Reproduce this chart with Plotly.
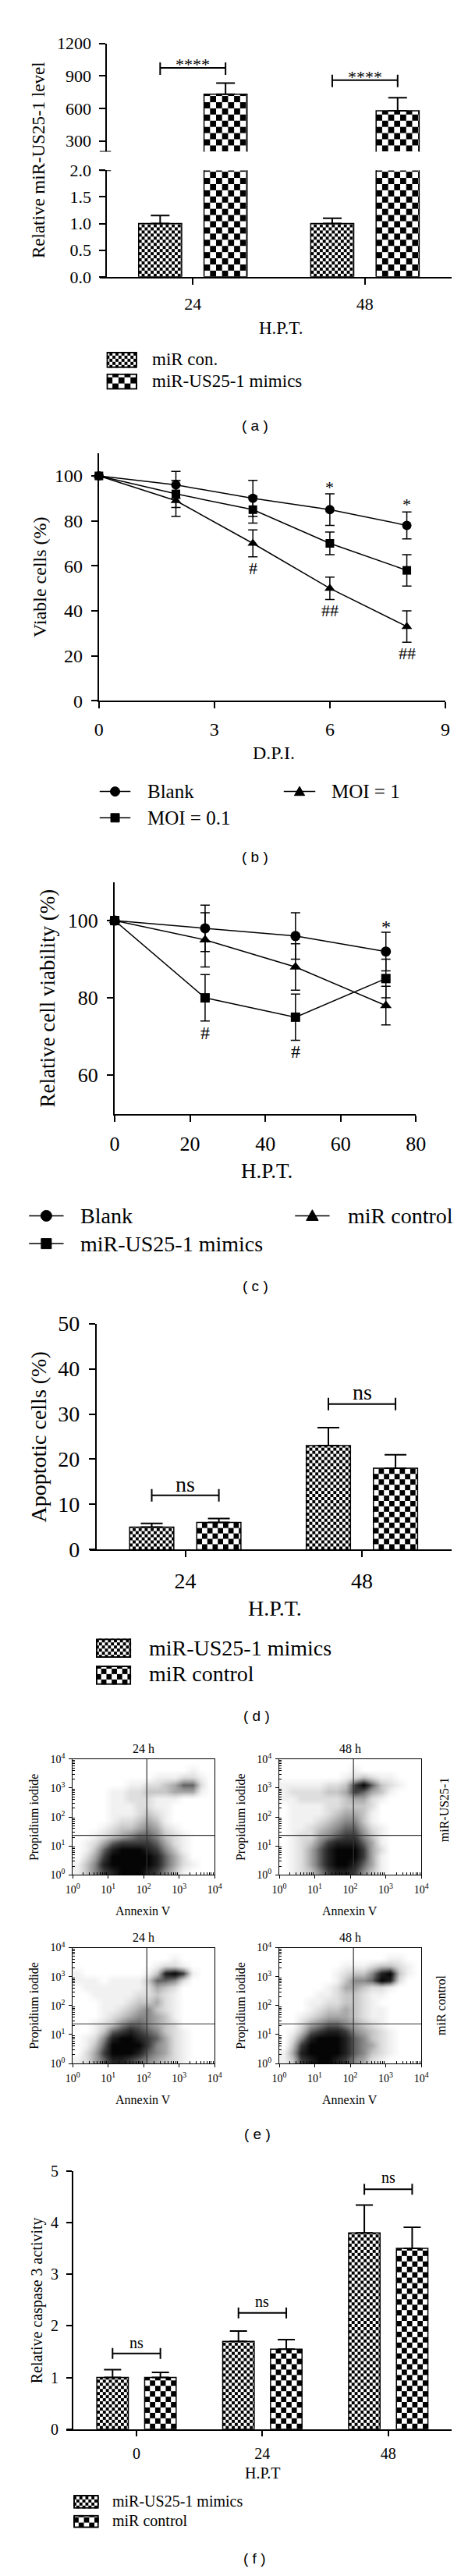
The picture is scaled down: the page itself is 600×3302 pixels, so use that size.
import base64
import math
import plotly.graph_objects as go

W, H = 600, 3302
SERIF = "Liberation Serif"
SANS = "Liberation Sans"

# ------------------------------------------------------------------ data
# (a) relative miR-US25-1 level
a_cats = ["24", "48"]
a_con = [1.0, 1.0]
a_con_err = [0.15, 0.10]
a_mim = [730, 578]
a_mim_err = [103, 120]
a_sig_y = [975, 861]
a_sig_text_y = [1043, 925]
a_sig_text = ["****", "****"]

# (b) viable cells
b_x = [0, 2, 4, 6, 8]
b_blank = [100, 96, 90, 85, 78]
b_blank_err = [None, 6, 8, 7, 6]
b_moi01 = [100, 92, 85, 70, 58]
b_moi01_err = [None, 6, 6, 5, 7]
b_moi1 = [100, 89, 70, 50, 33]
b_moi1_err = [None, 7, 6, 5, 7]
b_mark_x = [6, 8, 4, 6, 8]
b_mark_y = [96.3, 88.6, 59, 40, 21]
b_mark_t = ["*", "*", "#", "##", "##"]

# (c) relative cell viability
c_x = [0, 24, 48, 72]
c_blank = [100, 98, 96, 92]
c_blank_err = [None, 6, 6, 5]
c_mim = [100, 80, 75, 85]
c_mim_err = [None, 6, 6, 5]
c_ctrl = [100, 95, 88, 78]
c_ctrl_err = [None, 7, 6, 5]
c_mark_x = [72, 24, 48]
c_mark_y = [99.2, 71, 66]
c_mark_t = ["*", "#", "#"]

# (d) apoptotic cells
d_cats = ["24", "48"]
d_mim = [5, 23]
d_mim_err = [0.8, 4]
d_ctrl = [6, 18]
d_ctrl_err = [0.9, 3]
d_sig_y = [12, 32.2]
d_sig_text_y = [14.5, 34.9]

# (f) caspase 3 activity
f_cats = ["0", "24", "48"]
f_mim = [1.0, 1.7, 3.8]
f_mim_err = [0.15, 0.2, 0.54]
f_ctrl = [1.0, 1.55, 3.5]
f_ctrl_err = [0.1, 0.185, 0.41]
f_sig_y = [1.465, 2.25, 4.645]
f_sig_text_y = [1.68, 2.47, 4.87]

# (e) flow cytometry density (estimated darkness 0-9, 16x16 bins of 0.25 decade,
# rows listed from top (PI 10^4) to bottom (PI 10^0), columns Annexin 10^0 -> 10^4)
e_mim24 = [
    "0000000000000000",
    "0000000000000100",
    "0000000001112210",
    "0000001122346620",
    "0000112233344410",
    "0000112221110000",
    "0000111221100000",
    "0000111232100000",
    "0000122343100000",
    "0001233454210000",
    "0012345665321000",
    "0124677776421000",
    "0136899987531000",
    "0247999998642000",
    "1358999998642100",
    "1357899987531000",
]
e_mim48 = [
    "0000000000000000",
    "0000000010000000",
    "0000000123211000",
    "1111122379632100",
    "1222233476431000",
    "1122222344210000",
    "0111122333200000",
    "0111123443100000",
    "0111234553100000",
    "0112345664210000",
    "0122456775310000",
    "0123578886410000",
    "0124689997420000",
    "0124689997410000",
    "0124689986410000",
    "0123578875310000",
]
e_ctrl24 = [
    "0000000000000000",
    "0000000000010000",
    "0000000001221000",
    "1000000013897100",
    "1110111136652000",
    "0111111124320000",
    "0011111223210000",
    "0001112334210000",
    "0001123453210000",
    "0001234554310000",
    "0012356654320000",
    "0013678765321000",
    "0125899876421000",
    "0136999975421000",
    "0247999865421000",
    "1246887654321000",
]
e_ctrl48 = [
    "0000000000000000",
    "0000000000001100",
    "0000000111233210",
    "0000001233589310",
    "0000001355698200",
    "0000012443221000",
    "0000112332110000",
    "0001122332100000",
    "0001233432110000",
    "0012344432110000",
    "0024566543210000",
    "0136788754321000",
    "0258999865321000",
    "0379999865421000",
    "1489999865321000",
    "1378998754210000",
]
e_quad_x = 2.09   # log10 Annexin gate
e_quad_y = 1.37   # log10 PI gate

# ------------------------------------------------------------------ helpers
def fx(p):
    return p / W


def fy(p):
    return 1 - p / H


def xdom(l, r):
    return [fx(l), fx(r)]


def ydom(t, b):
    return [fy(b), fy(t)]


BW = 0.25
OFF = 0.19


def checker(wpx, hpx, cell, border=0.0):
    wpx = max(wpx, 1.0)
    hpx = max(hpx, 1.0)
    c2 = 2 * cell
    oy = hpx % c2
    b = ""
    if border:
        b = (f'<rect x="{border/2}" y="{border/2}" width="{wpx-border:.2f}" height="{hpx-border:.2f}" '
             f'fill="none" stroke="black" stroke-width="{border}"/>')
    svg = (f'<svg xmlns="http://www.w3.org/2000/svg" width="{wpx:.2f}" height="{hpx:.2f}" '
           f'viewBox="0 0 {wpx:.2f} {hpx:.2f}" preserveAspectRatio="none">'
           f'<defs><pattern id="p" x="0" y="{oy:.2f}" width="{c2}" height="{c2}" patternUnits="userSpaceOnUse">'
           f'<rect width="{c2}" height="{c2}" fill="white"/>'
           f'<rect width="{cell}" height="{cell}" fill="black"/>'
           f'<rect x="{cell}" y="{cell}" width="{cell}" height="{cell}" fill="black"/></pattern></defs>'
           f'<rect width="{wpx:.2f}" height="{hpx:.2f}" fill="url(#p)"/>{b}</svg>')
    return "data:image/svg+xml;base64," + base64.b64encode(svg.encode()).decode()


def bar_images(xs, tops, xref, yref, xscale, yscale, yrng, cell):
    out = []
    for xc, top in zip(xs, tops):
        lo = max(0, yrng[0])
        hi = min(top, yrng[1])
        if hi <= lo:
            continue
        out.append(dict(source=checker(BW * xscale, (hi - lo) * yscale, cell),
                        xref=xref, yref=yref, x=xc - BW / 2, y=hi, sizex=BW, sizey=hi - lo,
                        xanchor="left", yanchor="top", sizing="stretch", layer="below"))
    return out


def legend_patch(x0, y0, x1, y1, cell):
    return dict(source=checker(x1 - x0, y1 - y0, cell, border=2), xref="paper", yref="paper",
                x=fx(x0), y=fy(y0), sizex=(x1 - x0) / W, sizey=(y1 - y0) / H,
                xanchor="left", yanchor="top", sizing="stretch", layer="above")


def ax(size, **kw):
    d = dict(showline=True, linecolor="black", linewidth=2, ticks="outside", ticklen=8,
             tickwidth=2, tickcolor="black", showgrid=False, zeroline=False,
             tickfont=dict(family=SERIF, size=size, color="black"), fixedrange=True,
             ticklabelstandoff=4)
    d.update(kw)
    return d


def txt(x, y, s, size, angle=0, family=SERIF, xanchor="center"):
    return dict(x=fx(x), y=fy(y), xref="paper", yref="paper", text=s, showarrow=False,
                textangle=angle, xanchor=xanchor, yanchor="middle",
                font=dict(family=family, size=size, color="black"))


def bracket(x0, x1, y, xref, yref, up=7, down=9, width=2):
    line = dict(color="black", width=width)
    return [
        dict(type="line", xref=xref, yref=yref, x0=x0, x1=x1, y0=y, y1=y, line=line),
        dict(type="line", xref=xref, yref=yref, x0=x0, x1=x0, ysizemode="pixel", yanchor=y,
             y0=-down, y1=up, line=line),
        dict(type="line", xref=xref, yref=yref, x0=x1, x1=x1, ysizemode="pixel", yanchor=y,
             y0=-down, y1=up, line=line),
    ]


def legend_symbol(x0, x1, y, sym, r):
    """Legend key: a short line with a marker glyph in its middle (pixel positions)."""
    cx = (x0 + x1) / 2
    out = [dict(type="line", xref="paper", yref="paper", x0=fx(x0), x1=fx(x1), y0=fy(y), y1=fy(y),
                line=dict(color="black", width=1.5))]
    base = dict(xref="paper", yref="paper", xsizemode="pixel", ysizemode="pixel",
                xanchor=fx(cx), yanchor=fy(y), fillcolor="black", line=dict(color="black", width=1))
    if sym == "circle":
        out.append(dict(type="circle", x0=-r, x1=r, y0=-r, y1=r, **base))
    elif sym == "square":
        out.append(dict(type="rect", x0=-r, x1=r, y0=-r, y1=r, **base))
    else:
        out.append(dict(type="path", path=f"M{-r*1.1},{-r*0.85} L{r*1.1},{-r*0.85} L0,{r*1.1} Z", **base))
    return out


traces = []
images = []
shapes = []
annots = []
layout = {}

bar_line = dict(color="black", width=1.5)
clear = "rgba(0,0,0,0)"


def err_up(arr, w):
    return dict(type="data", array=arr, arrayminus=[0] * len(arr), symmetric=False,
                color="black", thickness=2, width=w)


# ------------------------------------------------------------------ (a)
A_X = (115, 583); A_XR = [-0.5415, 1.502]
A_LO = (197, 335); A_HI = (33, 173)
ax_sc = (A_X[1] - A_X[0]) / (A_XR[1] - A_XR[0])
lo_sc = (A_LO[1] - A_LO[0]) / 2.0
hi_sc = (A_HI[1] - A_HI[0]) / 1000.0
a_idx = list(range(len(a_cats)))
xa_con = [i - OFF for i in a_idx]
xa_mim = [i + OFF for i in a_idx]
layout["xaxis"] = ax(22, domain=xdom(*A_X), range=A_XR, tickvals=a_idx, ticktext=a_cats,
                     anchor="y", ticklabelstandoff=6)
layout["yaxis"] = ax(22, domain=ydom(*A_LO), range=[0, 2], tickvals=[0, 0.5, 1, 1.5, 2],
                     tickformat=".1f", anchor="free", position=fx(124), ticklabelstandoff=6)
layout["yaxis2"] = ax(22, domain=ydom(*A_HI), range=[200, 1200], tickvals=[300, 600, 900, 1200],
                      anchor="free", position=fx(124), ticklabelstandoff=6)
traces.append(go.Bar(x=xa_con, y=a_con, width=BW, xaxis="x", yaxis="y",
                     marker=dict(color=clear, line=bar_line), error_y=err_up(a_con_err, 12),
                     showlegend=False))
traces.append(go.Bar(x=xa_mim, y=a_mim, width=BW, xaxis="x", yaxis="y",
                     marker=dict(color=clear, line=bar_line), showlegend=False))
traces.append(go.Bar(x=xa_mim, y=a_mim, width=BW, xaxis="x", yaxis="y2",
                     marker=dict(color=clear, line=bar_line), error_y=err_up(a_mim_err, 12),
                     showlegend=False))
images += bar_images(xa_con, a_con, "x", "y", ax_sc, lo_sc, [0, 2], 4)
images += bar_images(xa_mim, a_mim, "x", "y", ax_sc, lo_sc, [0, 2], 8)
images += bar_images(xa_mim, a_mim, "x", "y2", ax_sc, hi_sc, [200, 1200], 8)
for i, (yv, ty, t) in enumerate(zip(a_sig_y, a_sig_text_y, a_sig_text)):
    shapes += bracket(i - OFF, i + OFF, yv, "x", "y2")
    annots.append(dict(x=i, y=ty, xref="x", yref="y2", text=t, showarrow=False,
                       yanchor="middle", yshift=-5, font=dict(family=SERIF, size=22)))
# axis break marks
for yy, yr in ((200, "y2"), (2.0, "y")):
    shapes.append(dict(type="line", xref="paper", yref=yr, x0=fx(115), x1=fx(130), y0=yy, y1=yy,
                       line=dict(color="black", width=2)))
annots += [txt(34, 184, "Relative miR-US25-1 level", 23, -90),
           txt(356, 401, "H.P.T.", 23),
           txt(183, 442, "miR con.", 23, xanchor="left"),
           txt(183, 470, "miR-US25-1 mimics", 23, xanchor="left"),
           txt(322, 527, "( a )", 19, family=SANS)]
images += [legend_patch(124, 432, 165, 453, 4), legend_patch(124, 460, 165, 481, 8)]

# ------------------------------------------------------------------ (b)
layout["xaxis2"] = ax(24, domain=xdom(114, 575), range=[0, 9], tickvals=[0, 3, 6, 9], anchor="y3",
                      ticklabelstandoff=6)
layout["yaxis3"] = ax(24, domain=ydom(563.5, 883.6), range=[0, 110],
                      tickvals=[0, 20, 40, 60, 80, 100], anchor="x2", ticklabelstandoff=6)


def line_trace(x, y, e, sym, size, name, xa, ya):
    return go.Scatter(x=x, y=y, mode="lines+markers", name=name, xaxis=xa, yaxis=ya,
                      line=dict(color="black", width=1.5),
                      marker=dict(symbol=sym, size=size, color="black"),
                      error_y=dict(type="data", array=e, color="black", thickness=1.5, width=6),
                      cliponaxis=False, showlegend=False)


traces.append(line_trace(b_x, b_blank, b_blank_err, "circle", 12, "Blank", "x2", "y3"))
traces.append(line_trace(b_x, b_moi1, b_moi1_err, "triangle-up", 12, "MOI = 1", "x2", "y3"))
traces.append(line_trace(b_x, b_moi01, b_moi01_err, "square", 11, "MOI = 0.1", "x2", "y3"))
for x, y, t in zip(b_mark_x, b_mark_y, b_mark_t):
    annots.append(dict(x=x, y=y, xref="x2", yref="y3", text=t, showarrow=False, yanchor="middle",
                       yshift=-4 if t == "*" else 0, font=dict(family=SERIF, size=22)))
annots += [txt(35, 723, "Viable cells (%)", 24, -90),
           txt(347, 951, "D.P.I.", 24),
           txt(176, 1001, "Blank", 25, xanchor="left"),
           txt(176, 1035, "MOI = 0.1", 25, xanchor="left"),
           txt(421, 1001, "MOI = 1", 25, xanchor="left"),
           txt(322, 1086, "( b )", 19, family=SANS)]
shapes += legend_symbol(115, 156, 1001, "circle", 6)
shapes += legend_symbol(115, 156, 1035, "square", 5.5)
shapes += legend_symbol(360, 402, 1001, "triangle", 6)

# ------------------------------------------------------------------ (c)
layout["xaxis3"] = ax(26, domain=xdom(135, 536), range=[0, 80], tickvals=[0, 20, 40, 60, 80],
                      anchor="y4", ticklabelstandoff=6)
layout["yaxis4"] = ax(26, domain=ydom(1118, 1418), range=[50, 110], tickvals=[60, 80, 100],
                      anchor="x3", ticklabelstandoff=6)
traces.append(line_trace(c_x, c_blank, c_blank_err, "circle", 13, "Blank", "x3", "y4"))
traces.append(line_trace(c_x, c_ctrl, c_ctrl_err, "triangle-up", 13, "miR control", "x3", "y4"))
traces.append(line_trace(c_x, c_mim, c_mim_err, "square", 12, "miR-US25-1 mimics", "x3", "y4"))
for x, y, t in zip(c_mark_x, c_mark_y, c_mark_t):
    annots.append(dict(x=x, y=y, xref="x3", yref="y4", text=t, showarrow=False, yanchor="middle",
                       yshift=-4 if t == "*" else 0, font=dict(family=SERIF, size=24)))
annots += [txt(46, 1268, "Relative cell viability (%)", 27, -90),
           txt(337, 1492, "H.P.T.", 27),
           txt(87, 1550, "Blank", 28, xanchor="left"),
           txt(87, 1586, "miR-US25-1 mimics", 28, xanchor="left"),
           txt(443, 1550, "miR control", 28, xanchor="left"),
           txt(322, 1641, "( c )", 19, family=SANS)]
shapes += legend_symbol(21, 67, 1550, "circle", 7)
shapes += legend_symbol(21, 67, 1586, "square", 6.5)
shapes += legend_symbol(375, 421, 1550, "triangle", 7)

# ------------------------------------------------------------------ (d)
D_X = (102, 583); D_XR = [-0.540, 1.506]; D_Y = (1689.5, 1982)
dx_sc = (D_X[1] - D_X[0]) / (D_XR[1] - D_XR[0])
dy_sc = (D_Y[1] - D_Y[0]) / 50.0
d_idx = list(range(len(d_cats)))
xd_mim = [i - OFF for i in d_idx]
xd_ctrl = [i + OFF for i in d_idx]
layout["xaxis4"] = ax(28, domain=xdom(*D_X), range=D_XR, tickvals=d_idx, ticktext=d_cats,
                      anchor="y5", ticklabelstandoff=6)
layout["yaxis5"] = ax(28, domain=ydom(*D_Y), range=[0, 50], tickvals=[0, 10, 20, 30, 40, 50],
                      anchor="free", position=fx(110), ticklabelstandoff=6)
traces.append(go.Bar(x=xd_mim, y=d_mim, width=BW, xaxis="x4", yaxis="y5",
                     marker=dict(color=clear, line=bar_line), error_y=err_up(d_mim_err, 14),
                     showlegend=False))
traces.append(go.Bar(x=xd_ctrl, y=d_ctrl, width=BW, xaxis="x4", yaxis="y5",
                     marker=dict(color=clear, line=bar_line), error_y=err_up(d_ctrl_err, 14),
                     showlegend=False))
images += bar_images(xd_mim, d_mim, "x4", "y5", dx_sc, dy_sc, [0, 50], 4)
images += bar_images(xd_ctrl, d_ctrl, "x4", "y5", dx_sc, dy_sc, [0, 50], 7)
for i, (yv, ty) in enumerate(zip(d_sig_y, d_sig_text_y)):
    shapes += bracket(i - OFF, i + OFF, yv, "x4", "y5", up=8, down=8)
    annots.append(dict(x=i, y=ty, xref="x4", yref="y5", text="ns", showarrow=False,
                       yanchor="middle", font=dict(family=SERIF, size=28)))
annots += [txt(34, 1836, "Apoptotic cells (%)", 28, -90),
           txt(348, 2058, "H.P.T.", 28),
           txt(179, 2109, "miR-US25-1 mimics", 28, xanchor="left"),
           txt(179, 2143, "miR control", 28, xanchor="left"),
           txt(324, 2197, "( d )", 19, family=SANS)]
images += [legend_patch(110, 2097, 157, 2122, 4), legend_patch(110, 2132, 157, 2157, 7)]

# ------------------------------------------------------------------ (e)
minor_vals = [d + math.log10(k) for d in range(4) for k in range(2, 10)]
dec_text = [f"10<sup>{k}</sup>" for k in range(5)]


def flow_ax(dom, anchor):
    return dict(domain=dom, range=[0, 4], tickvals=[0, 1, 2, 3, 4], ticktext=dec_text,
                showline=True, mirror=True, linewidth=1, linecolor="black", ticks="outside",
                ticklen=4, tickwidth=1, tickcolor="black", showgrid=False, zeroline=False,
                minor=dict(tickvals=minor_vals, ticks="inside", ticklen=3, tickwidth=1,
                           tickcolor="black", showgrid=False),
                tickfont=dict(family=SERIF, size=14, color="black"), anchor=anchor,
                fixedrange=True, ticklabelstandoff=2)


flow_panels = [
    (e_mim24, "x6", "y7", (79, 268), (2253, 2403)),
    (e_mim48, "x7", "y8", (354, 543), (2253, 2403)),
    (e_ctrl24, "x8", "y9", (79, 268), (2497, 2647)),
    (e_ctrl48, "x9", "y10", (354, 543), (2497, 2647)),
]
centers = [0.125 + 0.25 * i for i in range(16)]
flow_scale = [[0, "#ffffff"], [0.111, "#f1f1f1"], [0.222, "#dedede"], [0.333, "#c6c6c6"],
              [0.556, "#8a8a8a"], [0.778, "#3c3c3c"], [1, "#050505"]]
for grid, xa, ya, xd, yd in flow_panels:
    xn = "xaxis" + xa[1:]
    yn = "yaxis" + ya[1:]
    layout[xn] = flow_ax(xdom(*xd), ya)
    layout[yn] = flow_ax(ydom(*yd), xa)
    z = [[int(c) for c in row] for row in reversed(grid)]
    traces.append(go.Heatmap(x=centers, y=centers, z=z, xaxis=xa, yaxis=ya, zmin=0, zmax=9,
                             colorscale=flow_scale, showscale=False, zsmooth="best",
                             hoverinfo="skip", showlegend=False))
    gl = dict(color="#333333", width=1.2)
    shapes.append(dict(type="line", xref=xa, yref=ya, x0=e_quad_x, x1=e_quad_x, y0=0, y1=4, line=gl))
    shapes.append(dict(type="line", xref=xa, yref=ya, x0=0, x1=4, y0=e_quad_y, y1=e_quad_y, line=gl))

for (cx, ty, by, lbl) in ((173, 2240, 2450, "24 h"), (448, 2240, 2450, "48 h"),
                          (173, 2484, 2694, "24 h"), (448, 2484, 2694, "48 h")):
    annots.append(txt(cx, ty, lbl, 16))
    annots.append(txt(cx, by, "Annexin V", 16))
for (px, py) in ((28, 2328), (303, 2328), (28, 2572), (303, 2572)):
    annots.append(txt(px, py, "Propidium iodide", 16, -90))
annots += [txt(573, 2318, "miR-US25-1", 16, -90),
           txt(570, 2572, "miR control", 16, -90),
           txt(325, 2738, "( e )", 19, family=SANS)]

# ------------------------------------------------------------------ (f)
F_X = (71, 583); F_XR = [-0.555, 2.501]; F_Y = (2786, 3120)
fx_sc = (F_X[1] - F_X[0]) / (F_XR[1] - F_XR[0])
fy_sc = (F_Y[1] - F_Y[0]) / 5.0
f_idx = list(range(len(f_cats)))
xf_mim = [i - OFF for i in f_idx]
xf_ctrl = [i + OFF for i in f_idx]
layout["xaxis5"] = ax(20, domain=xdom(*F_X), range=F_XR, tickvals=f_idx, ticktext=f_cats,
                      anchor="y6", ticklen=7, ticklabelstandoff=5)
layout["yaxis6"] = ax(20, domain=ydom(*F_Y), range=[0, 5], tickvals=[0, 1, 2, 3, 4, 5],
                      anchor="free", position=fx(79), ticklen=7, ticklabelstandoff=6)
traces.append(go.Bar(x=xf_mim, y=f_mim, width=BW, xaxis="x5", yaxis="y6",
                     marker=dict(color=clear, line=bar_line), error_y=err_up(f_mim_err, 11),
                     showlegend=False))
traces.append(go.Bar(x=xf_ctrl, y=f_ctrl, width=BW, xaxis="x5", yaxis="y6",
                     marker=dict(color=clear, line=bar_line), error_y=err_up(f_ctrl_err, 11),
                     showlegend=False))
images += bar_images(xf_mim, f_mim, "x5", "y6", fx_sc, fy_sc, [0, 5], 4)
images += bar_images(xf_ctrl, f_ctrl, "x5", "y6", fx_sc, fy_sc, [0, 5], 7)
for i, (yv, ty) in enumerate(zip(f_sig_y, f_sig_text_y)):
    shapes += bracket(i - OFF, i + OFF, yv, "x5", "y6", up=7, down=7)
    annots.append(dict(x=i, y=ty, xref="x5", yref="y6", text="ns", showarrow=False,
                       yanchor="middle", font=dict(family=SERIF, size=20)))
annots += [txt(31, 2953, "Relative caspase 3 activity", 20, -90),
           txt(332, 3177, "H.P.T", 20),
           txt(130, 3213, "miR-US25-1 mimics", 20, xanchor="left"),
           txt(130, 3238, "miR control", 20, xanchor="left"),
           txt(321, 3287, "( f )", 19, family=SANS)]
images += [legend_patch(80, 3205, 114, 3223, 4), legend_patch(80, 3231, 114, 3248, 7)]

fig = go.Figure(data=traces)
fig.update_layout(
    width=W, height=H, margin=dict(l=0, r=0, t=0, b=0, pad=0),
    paper_bgcolor="white", plot_bgcolor="white",
    font=dict(family=SERIF, color="black"),
    barmode="overlay", showlegend=False,
    images=images, shapes=shapes, annotations=annots,
    **layout,
)
fig.write_html("out.html")
